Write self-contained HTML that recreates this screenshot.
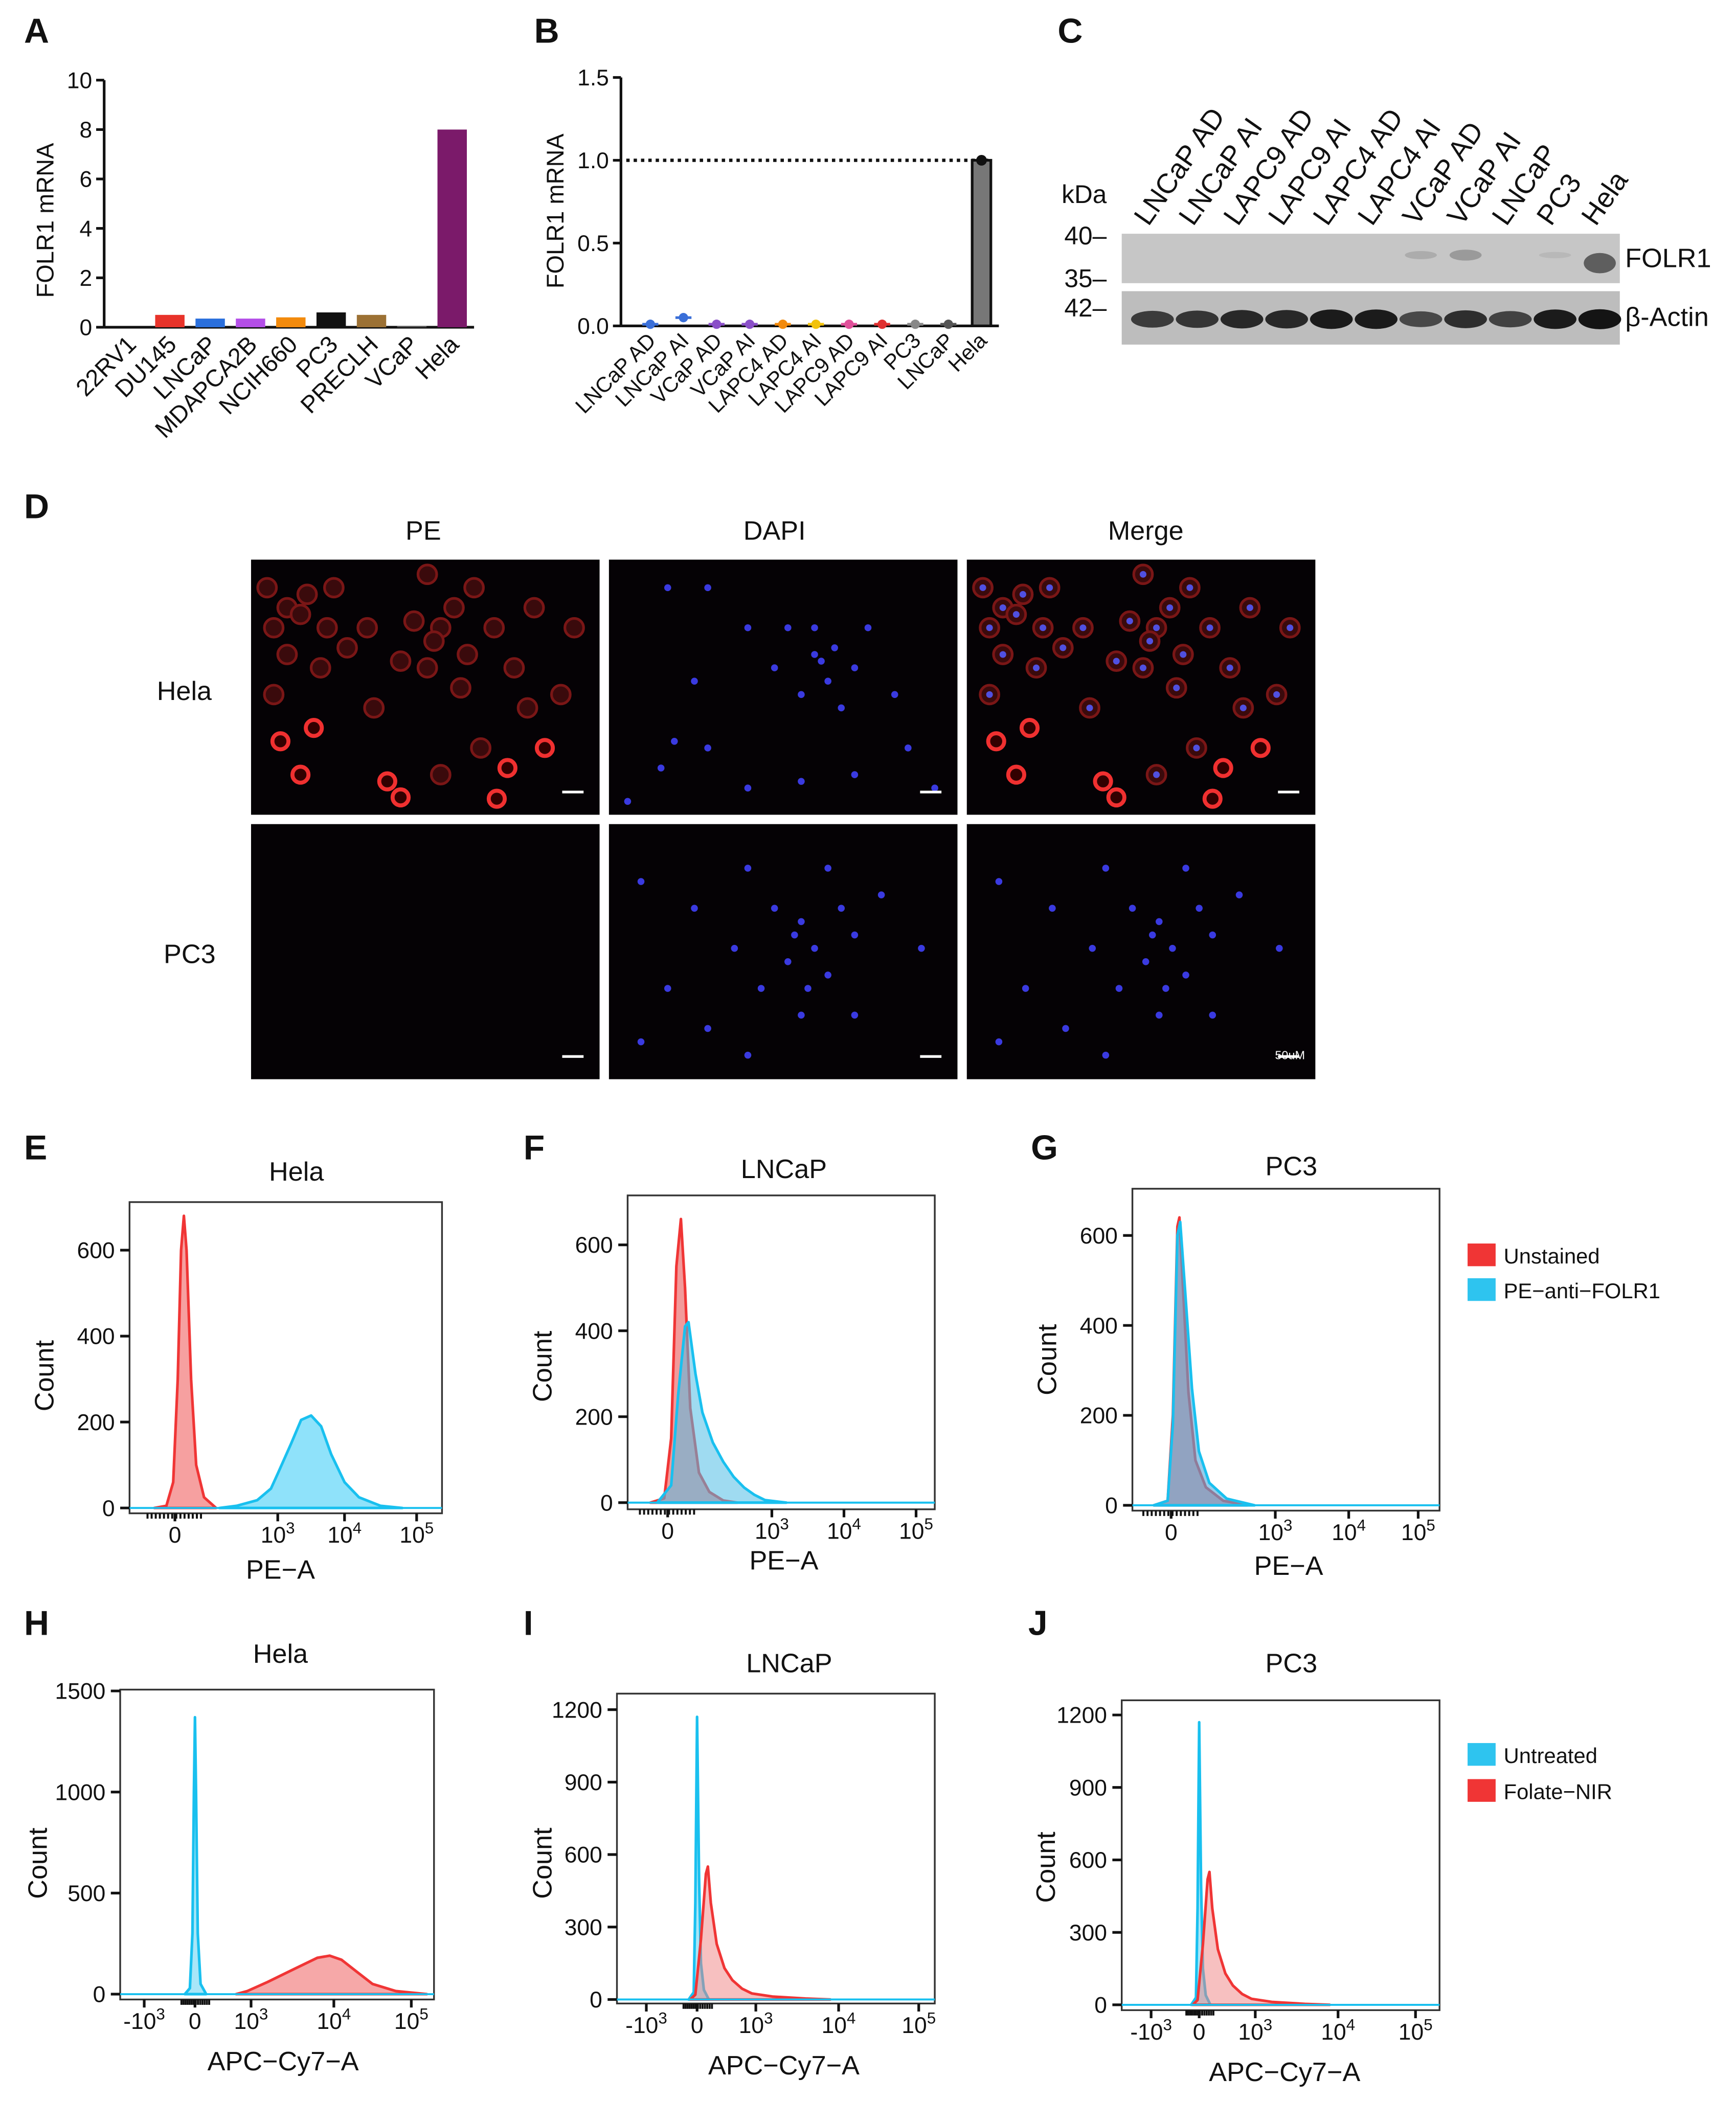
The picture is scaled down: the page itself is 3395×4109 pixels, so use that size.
<!DOCTYPE html>
<html><head><meta charset="utf-8"><style>
html,body{margin:0;padding:0;background:#fff}
svg{display:block}
text{font-family:"Liberation Sans",Arial,sans-serif;fill:#111}
</style></head><body>
<svg id="fig" xmlns="http://www.w3.org/2000/svg" width="3395" height="4109" viewBox="0 0 1300 1573" preserveAspectRatio="none">
<rect width="1300" height="1573" fill="#fff"/>
<g id="labels" font-weight="bold" font-size="26">
<text x="18" y="32">A</text>
<text x="400" y="32">B</text>
<text x="792" y="32">C</text>
<text x="18" y="388">D</text>
<text x="18" y="868">E</text>
<text x="392" y="868">F</text>
<text x="772" y="868">G</text>
<text x="18" y="1224">H</text>
<text x="392" y="1224">I</text>
<text x="770" y="1224">J</text>
</g>
<g id="gA"></g>
<g id="gB"></g>
<g id="gC"></g>
<g id="gD"></g>
<g id="gF"></g>
</svg>
<script>
const NS="http://www.w3.org/2000/svg";
function el(tag,attrs,parent,txt){const e=document.createElementNS(NS,tag);for(const k in attrs)e.setAttribute(k,attrs[k]);if(txt!==undefined)e.textContent=txt;parent.appendChild(e);return e;}

// ---------- Panel A data ----------
const aCategories=["22RV1","DU145","LNCaP","MDAPCA2B","NCIH660","PC3","PRECLH","VCaP","Hela"];
const aValues=[0,0.5,0.35,0.35,0.4,0.6,0.5,0.05,8.0];
const aColors=["#e33","#e8332a","#2a6fdc","#b44fe8","#f28a0c","#111","#9c7134","#555","#7b1a6a"];
const aTicks=[0,2,4,6,8,10];
// ---------- Panel B data ----------
const bCategories=["LNCaP AD","LNCaP AI","VCaP AD","VCaP AI","LAPC4 AD","LAPC4 AI","LAPC9 AD","LAPC9 AI","PC3","LNCaP","Hela"];
const bValues=[0.01,0.05,0.01,0.01,0.01,0.01,0.01,0.01,0.01,0.01,1.0];
const bColors=["#3a6fd8","#3a6fd8","#8a4fc8","#8a4fc8","#f28a0c","#f2c20c","#e0509a","#e03030","#888","#555","#777"];
const bTicks=[0,0.5,1.0,1.5];
const bTickLabels=["0.0","0.5","1.0","1.5"];

(function(){
 const g=document.getElementById('gA');
 const x0=78,y0=245,yTop=60,max=10;
 const ys=v=>y0-(v/max)*(y0-yTop);
 const xs=i=>97+i*30.2;
 el('line',{x1:x0,y1:yTop,x2:x0,y2:y0,stroke:'#111','stroke-width':2},g);
 el('line',{x1:x0,y1:y0,x2:355,y2:y0,stroke:'#111','stroke-width':2},g);
 aTicks.forEach(t=>{el('line',{x1:x0-6,y1:ys(t),x2:x0,y2:ys(t),stroke:'#111','stroke-width':2},g);
  const tx=el('text',{x:x0-9,y:ys(t)+6,'text-anchor':'end','font-size':17},g,String(t));
  });
 const yl=el('text',{x:0,y:0,transform:'translate(40,165) rotate(-90)','text-anchor':'middle','font-size':18},g,'FOLR1 mRNA');
 
 aCategories.forEach((c,i)=>{
  const b=el('rect',{x:xs(i)-11,y:ys(aValues[i]),width:22,height:y0-ys(aValues[i]),fill:aColors[i]},g);
  
  const t=el('text',{x:0,y:0,transform:`translate(${xs(i)+6},${y0+14}) rotate(-45)`,'text-anchor':'end','font-size':18},g,c);
  
 });
})();

(function(){
 const g=document.getElementById('gB');
 const x0=465,y0=244,yTop=58,max=1.5;
 const ys=v=>y0-(v/max)*(y0-yTop);
 const xs=i=>487+i*24.8;
 el('line',{x1:x0,y1:yTop,x2:x0,y2:y0,stroke:'#111','stroke-width':2},g);
 el('line',{x1:x0,y1:y0,x2:748,y2:y0,stroke:'#111','stroke-width':2},g);
 bTicks.forEach((t,i)=>{el('line',{x1:x0-6,y1:ys(t),x2:x0,y2:ys(t),stroke:'#111','stroke-width':2},g);
  const tx=el('text',{x:x0-9,y:ys(t)+6,'text-anchor':'end','font-size':17},g,bTickLabels[i]);
  });
 const ref=el('line',{x1:x0+4,y1:ys(1),x2:740,y2:ys(1),stroke:'#111','stroke-width':2.5,'stroke-dasharray':'2.5,3'},g);
 
 const yl=el('text',{x:0,y:0,transform:'translate(422,158) rotate(-90)','text-anchor':'middle','font-size':18},g,'FOLR1 mRNA');
 
 bCategories.forEach((c,i)=>{
  if(c==='Hela'){
   const b=el('rect',{x:xs(i)-7,y:ys(bValues[i]),width:14,height:y0-ys(bValues[i]),fill:'#777',stroke:'#111','stroke-width':2},g);
   
   el('circle',{cx:xs(i),cy:ys(bValues[i]),r:4,fill:'#111'},g);
  }else{
   const p=el('circle',{cx:xs(i),cy:ys(bValues[i]),r:3.5,fill:bColors[i]},g);
   
   el('line',{x1:xs(i)-6,y1:ys(bValues[i]),x2:xs(i)+6,y2:ys(bValues[i]),stroke:bColors[i],'stroke-width':2},g);
  }
  const t=el('text',{x:0,y:0,transform:`translate(${xs(i)+5},${y0+12}) rotate(-45)`,'text-anchor':'end','font-size':16},g,c);
  
 });
})();

// ---------- Panel C blot ----------
const cLanes=["LNCaP AD","LNCaP AI","LAPC9 AD","LAPC9 AI","LAPC4 AD","LAPC4 AI","VCaP AD","VCaP AI","LNCaP","PC3","Hela"];
const cActin=[0.7,0.75,0.85,0.85,0.95,0.95,0.6,0.8,0.65,0.95,1.0];
const cFolr=[0,0,0,0,0,0,0.15,0.3,0,0.05,0.8];
(function(){
 const g=document.getElementById('gC');
 const xs=i=>866+i*33.5;
 cLanes.forEach((c,i)=>{const t=el('text',{x:0,y:0,transform:`translate(${xs(i)-6},${170}) rotate(-55)`,'font-size':21},g,c);
  });
 const b1=el('rect',{x:840,y:175,width:373,height:37,fill:'#c6c6c6'},g);
 const b2=el('rect',{x:840,y:218,width:373,height:40,fill:'#bdbdbd'},g);
 cActin.forEach((v,i)=>{const k=Math.round(150-v*130);
  el('ellipse',{cx:xs(i)-3,cy:239,rx:16,ry:3.5+v*4,fill:`rgb(${k},${k},${k})`},g);});
 cFolr.forEach((v,i)=>{if(v>0){const k=Math.round(190-v*120);
  el('ellipse',{cx:xs(i)-3,cy:i===10?197:191,rx:12,ry:2+v*7,fill:`rgb(${k},${k},${k})`},g);}});
 [['kDa',795,152],['40–',797,183],['35–',797,215],['42–',797,237]].forEach(a=>{const t=el('text',{x:a[1],y:a[2],'font-size':19},g,a[0]);});
 const f=el('text',{x:1217,y:200,'font-size':20},g,'FOLR1');
 const a=el('text',{x:1217,y:244,'font-size':20},g,'β-Actin');
})();

// ---------- Panel D images ----------
const redCells=[[200,440],[215,455],[230,445],[250,440],[205,470],[225,460],[245,470],[215,490],[240,500],[260,485],[275,470],[320,430],[310,465],[330,470],[340,455],[355,440],[325,480],[350,490],[370,470],[385,500],[345,515],[320,500],[300,495],[205,520],[280,530],[395,530],[420,520],[400,455],[430,470],[360,560],[330,580]];
const bright=[[210,555],[235,545],[225,580],[290,585],[300,597],[380,575],[408,560],[372,598]];
const nucHela=[[500,440],[530,440],[560,470],[590,470],[610,490],[620,510],[640,500],[630,530],[600,520],[580,500],[650,470],[520,510],[505,555],[495,575],[530,560],[560,590],[600,585],[640,580],[680,560],[700,590],[470,600],[670,520],[610,470],[615,495],[625,485]];
const nucPC3=[[480,660],[520,680],[560,650],[580,680],[600,690],[590,720],[610,710],[620,730],[640,700],[570,740],[600,760],[640,760],[500,740],[530,770],[660,670],[690,710],[480,780],[560,790],[620,650],[550,710],[630,680],[595,700],[605,740]];
(function(){
 const g=document.getElementById('gD');
 const cols=[188,456,724],rows=[419,617],W=261,H=191;
 [['PE',317],['DAPI',580],['Merge',858]].forEach(a=>{const t=el('text',{x:a[1],y:404,'text-anchor':'middle','font-size':20},g,a[0]);});
 [['Hela',138,524],['PC3',142,721]].forEach(a=>{const t=el('text',{x:a[1],y:a[2],'text-anchor':'middle','font-size':20},g,a[0]);});
 rows.forEach((ry,r)=>cols.forEach((cx,c)=>{
  const im=el('rect',{x:cx,y:ry,width:W,height:H,fill:'#050205'},g);
  
  const clip='clip'+r+c;const cp=el('clipPath',{id:clip},g);el('rect',{x:cx,y:ry,width:W,height:H},cp);
  const gg=el('g',{'clip-path':`url(#${clip})`},g);
  if(r===0&&(c===0||c===2)){
   const dx=cx-188;
   redCells.forEach(p=>el('circle',{cx:p[0]+dx,cy:p[1],r:7,fill:'#3a0a0c',stroke:'#7a1616','stroke-width':2},gg));
   bright.forEach(p=>el('circle',{cx:p[0]+dx,cy:p[1],r:6,fill:'#300',stroke:'#f03030','stroke-width':3},gg));
   if(c===2) redCells.forEach(p=>el('circle',{cx:p[0]+dx,cy:p[1],r:2.5,fill:'#5050e0'},gg));
  }
  if(c===1||(c===2&&r===1)){
   const dx=cx-456;
   (r===0?nucHela:nucPC3).forEach(p=>el('circle',{cx:p[0]+dx,cy:p[1],r:2.6,fill:'#3a3ae0'},gg));
  }
  el('line',{x1:cx+W-28,y1:ry+H-17,x2:cx+W-12,y2:ry+H-17,stroke:'#fff','stroke-width':2},g);
 }));
 const s=el('text',{x:966,y:793,'text-anchor':'middle','font-size':9,style:'fill:#fff'},g,'50uM');
})();

// ---------- Flow histograms data ([x in decade units, count]) ----------
const eUnstained=[[-0.6,0],[-0.25,5],[-0.05,60],[0.08,300],[0.18,600],[0.26,680],[0.34,600],[0.47,300],[0.62,100],[0.85,25],[1.2,0]];
const eStained=[[1.3,0],[1.8,5],[2.4,18],[2.8,45],[3.0,80],[3.2,150],[3.35,205],[3.5,215],[3.65,190],[3.8,125],[4.0,60],[4.2,25],[4.5,5],[4.8,0]];
const fUnstained=[[-0.5,0],[-0.1,10],[0.1,150],[0.25,550],[0.38,660],[0.5,500],[0.65,220],[0.9,70],[1.2,25],[1.6,5],[2.0,0]];
const fStained=[[-0.3,0],[0.1,40],[0.3,250],[0.5,410],[0.6,420],[0.8,300],[1.0,210],[1.3,140],[1.6,95],[1.9,60],[2.2,35],[2.5,18],[2.8,6],[3.2,0]];
const gUnstained=[[-0.5,0],[-0.1,10],[0.05,200],[0.18,620],[0.24,640],[0.33,500],[0.5,250],[0.7,100],[1.0,40],[1.5,10],[2.2,0]];
const gStained=[[-0.5,0],[-0.1,10],[0.05,180],[0.18,600],[0.26,630],[0.4,480],[0.6,260],[0.8,120],[1.1,50],[1.6,15],[2.4,0]];
const hUntreated=[[-0.6,0],[-0.3,30],[-0.15,300],[-0.06,1000],[0,1370],[0.06,1000],[0.15,300],[0.3,50],[0.6,0]];
const hFolate=[[2.2,0],[2.8,15],[3.2,60],[3.5,120],[3.8,180],[3.95,190],[4.1,170],[4.3,110],[4.5,50],[4.8,15],[5.2,0]];
const iUntreated=[[-0.5,0],[-0.2,30],[-0.1,400],[0,1170],[0.1,500],[0.2,150],[0.35,40],[0.6,0]];
const iFolate=[[-0.4,0],[-0.1,20],[0.2,250],[0.45,520],[0.55,550],[0.7,400],[1.0,230],[1.4,130],[1.8,80],[2.3,45],[2.8,25],[3.2,12],[3.6,4],[3.9,0]];
const jUntreated=[[-0.5,0],[-0.2,30],[-0.1,400],[0,1170],[0.1,500],[0.2,150],[0.35,40],[0.6,0]];
const jFolate=[[-0.4,0],[-0.1,20],[0.2,250],[0.45,520],[0.55,550],[0.7,400],[1.0,230],[1.4,130],[1.8,80],[2.3,45],[2.8,25],[3.2,12],[3.6,4],[3.9,0]];
const peYTicks=[0,200,400,600];
const hYTicks=[0,500,1000,1500];
const ijYTicks=[0,300,600,900,1200];

const panels=[
 {id:'e',title:'Hela',tx:222,ty:884,xl:'PE−A',xlx:210,xly:1182,cx:40,cy:1030,box:[97,900,331,1133],y0:1129,yRef:[600,936],yt:peYTicks,xt:[[0,131],[3,208],[4,258],[5,312]],series:[[eUnstained,'#f03535','#f6a0a0'],[eStained,'#19c0ef','#8fe2fa']]},
 {id:'f',title:'LNCaP',tx:587,ty:882,xl:'PE−A',xlx:587,xly:1175,cx:413,cy:1023,box:[470,895,700,1130],y0:1125,yRef:[600,932],yt:peYTicks,xt:[[0,500],[3,578],[4,632],[5,686]],series:[[fUnstained,'#f03535','#f29a9a'],[fStained,'#19c0ef','rgba(80,190,230,0.55)']]},
 {id:'g',title:'PC3',tx:967,ty:880,xl:'PE−A',xlx:965,xly:1179,cx:791,cy:1018,box:[848,890,1078,1131],y0:1127,yRef:[600,925],yt:peYTicks,xt:[[0,877],[3,955],[4,1010],[5,1062]],series:[[gUnstained,'#f03535','#f29a9a'],[gStained,'#19c0ef','rgba(80,170,220,0.6)']]},
 {id:'h',title:'Hela',tx:210,ty:1245,xl:'APC−Cy7−A',xlx:212,xly:1550,cx:35,cy:1395,box:[90,1265,325,1497],y0:1493,yRef:[1500,1266],yt:hYTicks,xt:[[-3,108],[0,146],[3,188],[4,250],[5,308]],series:[[hUntreated,'#19c0ef','#a8e6f8'],[hFolate,'#f03535','#f6a8a8']]},
 {id:'i',title:'LNCaP',tx:591,ty:1252,xl:'APC−Cy7−A',xlx:587,xly:1553,cx:413,cy:1395,box:[462,1268,700,1500],y0:1497,yRef:[1200,1280],yt:ijYTicks,xt:[[-3,484],[0,522],[3,566],[4,628],[5,688]],series:[[iUntreated,'#19c0ef','#a8e6f8'],[iFolate,'#f03535','rgba(240,130,130,0.5)']]},
 {id:'j',title:'PC3',tx:967,ty:1252,xl:'APC−Cy7−A',xlx:962,xly:1558,cx:790,cy:1398,box:[840,1273,1078,1505],y0:1501,yRef:[1200,1284],yt:ijYTicks,xt:[[-3,862],[0,898],[3,940],[4,1002],[5,1060]],series:[[jUntreated,'#19c0ef','#a8e6f8'],[jFolate,'#f03535','rgba(240,130,130,0.5)']]}
];
function sup(p){return p<0?'-10':'10';}
(function(){
 const g=document.getElementById('gF');
 panels.forEach(p=>{
  const pg=el('g',{},g);
  
  
  const [bx0,by0,bx1,by1]=p.box;
  const ys=v=>p.y0-(v/p.yRef[0])*(p.y0-p.yRef[1]);
  const xs=u=>{const t=p.xt;let a=t[0],b=t[1];
   for(let k=0;k<t.length-1;k++){if(u>=t[k][0]){a=t[k];b=t[k+1];}}
   return a[1]+(u-a[0])*(b[1]-a[1])/(b[0]-a[0]);};
  el('rect',{x:bx0,y:by0,width:bx1-bx0,height:by1-by0,fill:'#fff',stroke:'#333','stroke-width':1.3},pg);
  p.series.forEach((s,si)=>{
   const pts=s[0];
   let d='M'+xs(pts[0][0])+','+ys(0);
   pts.forEach(q=>{d+=' L'+xs(q[0]).toFixed(1)+','+ys(q[1]).toFixed(1);});
   d+=' L'+xs(pts[pts.length-1][0])+','+ys(0)+' Z';
   const a=el('path',{d:d,fill:s[2],stroke:s[1],'stroke-width':2,'stroke-linejoin':'round'},pg);
   
   
  });
  el('line',{x1:bx0,y1:p.y0,x2:bx1,y2:p.y0,stroke:'#19c0ef','stroke-width':1.5},pg);
  p.yt.forEach(t=>{el('line',{x1:bx0-7,y1:ys(t),x2:bx0,y2:ys(t),stroke:'#111','stroke-width':2},pg);
   const tx=el('text',{x:bx0-11,y:ys(t)+6,'text-anchor':'end','font-size':17},pg,String(t));
   });
  p.xt.forEach(t=>{const x=t[1];
   el('line',{x1:x,y1:by1,x2:x,y2:by1+6,stroke:'#111','stroke-width':2},pg);
   const tx=el('text',{x:x,y:by1+22,'text-anchor':'middle','font-size':17},pg);
   
   if(t[0]===0){tx.textContent='0';}
   else{tx.textContent=sup(t[0]);el('tspan',{dy:-7,'font-size':12},tx,String(Math.abs(t[0])));}
  });
  for(let u=-0.8;u<0.8;u+=0.12){el('line',{x1:xs(u),y1:by1,x2:xs(u),y2:by1+4,stroke:'#111','stroke-width':1.5},pg);}
  const tt=el('text',{x:p.tx,y:p.ty,'text-anchor':'middle','font-size':20},pg,p.title);
  
  const xl=el('text',{x:p.xlx,y:p.xly,'text-anchor':'middle','font-size':20},pg,p.xl);
  
  const cl=el('text',{x:0,y:0,transform:`translate(${p.cx},${p.cy}) rotate(-90)`,'text-anchor':'middle','font-size':20},pg,'Count');
  
 });
 [[931,'#f03535','Unstained'],[957,'#2ec4ef','PE−anti−FOLR1'],[1305,'#2ec4ef','Untreated'],[1332,'#f03535','Folate−NIR']].forEach(l=>{
  const r=el('rect',{x:1099,y:l[0],width:21,height:17,fill:l[1]},g);
  
  const t=el('text',{x:1126,y:l[0]+15,'font-size':16},g,l[2]);
  
 });
})();
</script>
</body></html>
